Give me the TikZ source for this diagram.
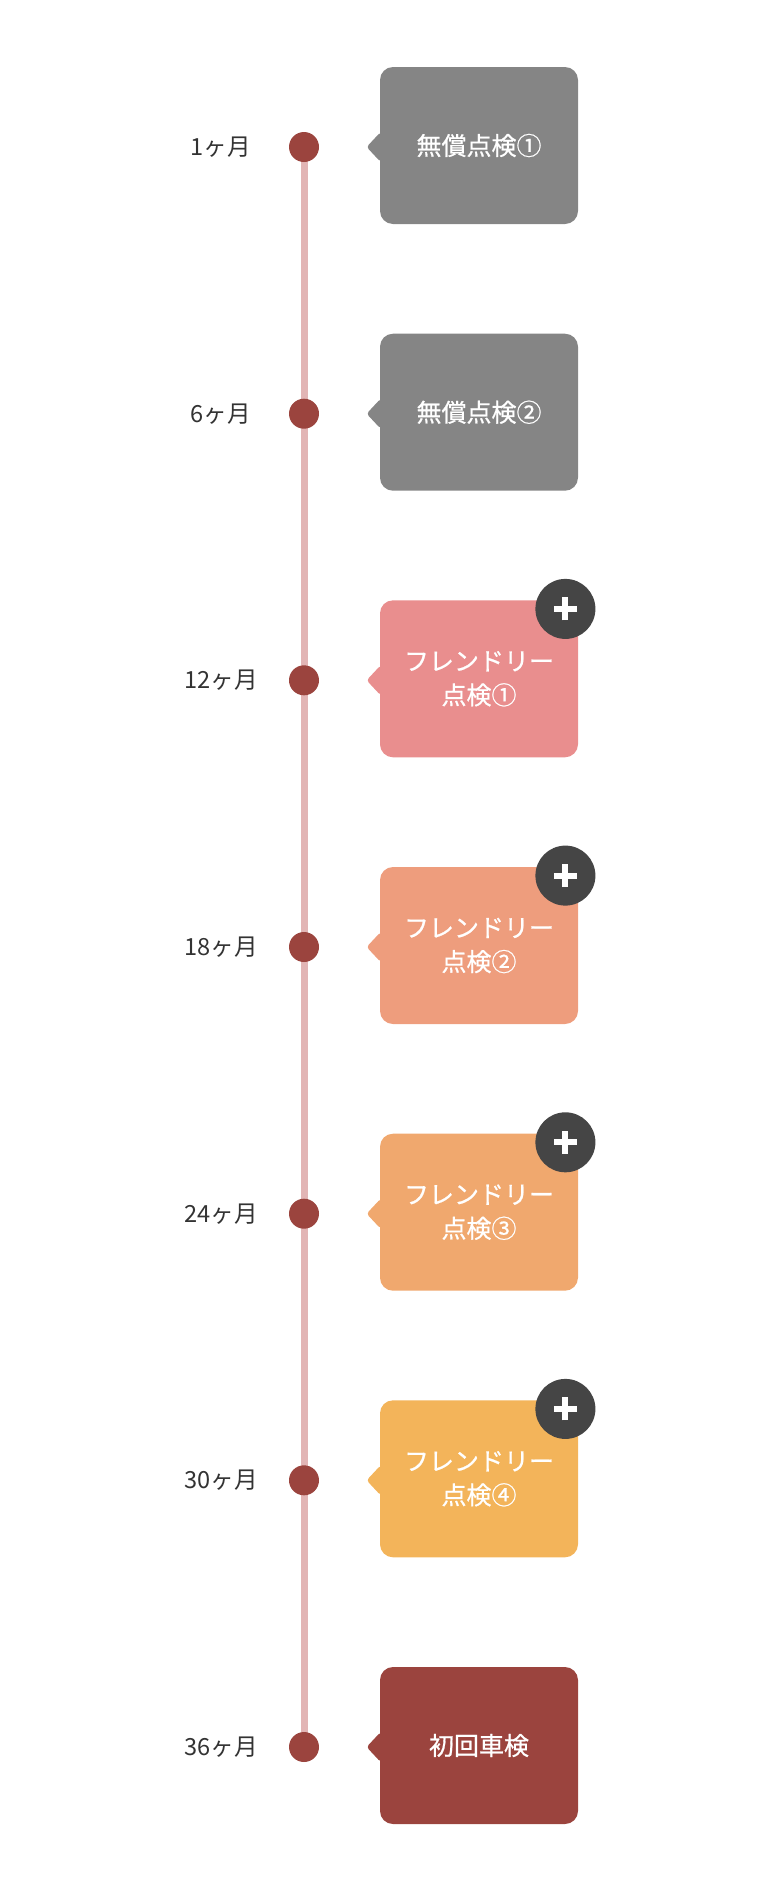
\documentclass[tikz,border=0pt]{standalone}
\usepackage{fontspec}
\setmainfont{Noto Sans CJK JP}
\newfontfamily\medio{Noto Sans CJK JP}[FakeBold=0.7]
\usepackage{tikz}
\usetikzlibrary{positioning,backgrounds}

\definecolor{grigio}{HTML}{858585}
\definecolor{rosa}{HTML}{E98E8E}
\definecolor{salmone}{HTML}{EE9D7D}
\definecolor{pesca}{HTML}{F0A86E}
\definecolor{giallo}{HTML}{F3B45A}
\definecolor{mattone}{HTML}{9B443E}
\definecolor{lineac}{HTML}{E2B5B5}
\definecolor{piuc}{HTML}{454545}
\definecolor{testoc}{HTML}{333333}

\begin{document}
\begin{tikzpicture}[x=0.5pt, y=-0.5pt,
    tappa/.style={circle, fill=mattone, minimum size=15pt, inner sep=0pt},
    mese/.style={text=testoc, font=\fontsize{11.8}{14}\selectfont},
    scatola/.style={rectangle, rounded corners=6.5pt, minimum width=99pt, minimum height=78.5pt,
        text=white, align=center, inner sep=0pt, font=\medio\fontsize{12.5}{17}\selectfont},
    piu/.style={circle, fill=piuc, minimum size=30pt, inner sep=0pt},
    croce/.style={white, line width=3pt}]
    \useasboundingbox (0,0) rectangle (768,1890);

    % TAPPE
    \node[tappa] (t1) at (304,147) {};
    \node[tappa] (t2) at (304,413.7) {};
    \node[tappa] (t3) at (304,680.3) {};
    \node[tappa] (t4) at (304,947) {};
    \node[tappa] (t5) at (304,1213.7) {};
    \node[tappa] (t6) at (304,1480.3) {};
    \node[tappa] (t7) at (304,1747) {};

    % MESI
    \node[mese] (m1) at (221,147) {1ヶ月};
    \node[mese] (m2) at (221,413.7) {6ヶ月};
    \node[mese] (m3) at (221,680.3) {12ヶ月};
    \node[mese] (m4) at (221,947) {18ヶ月};
    \node[mese] (m5) at (221,1213.7) {24ヶ月};
    \node[mese] (m6) at (221,1480.3) {30ヶ月};
    \node[mese] (m7) at (221,1747) {36ヶ月};

    % CONTROLLI
    \node[scatola, fill=grigio] (s1) at (479,145.5) {無償点検①};
    \node[scatola, fill=grigio] (s2) at (479,412.2) {無償点検②};
    \node[scatola, fill=rosa] (s3) at (479,678.8) {フレンドリー\\点検①};
    \node[scatola, fill=salmone] (s4) at (479,945.5) {フレンドリー\\点検②};
    \node[scatola, fill=pesca] (s5) at (479,1212.2) {フレンドリー\\点検③};
    \node[scatola, fill=giallo] (s6) at (479,1478.8) {フレンドリー\\点検④};
    \node[scatola, fill=mattone] (s7) at (479,1745.5) {初回車検};

    % PUNTE
    \foreach \s/\c/\t in {s1/grigio/t1, s2/grigio/t2, s3/rosa/t3, s4/salmone/t4,
                          s5/pesca/t5, s6/giallo/t6, s7/mattone/t7}
        \fill[\c, rounded corners=1.5pt] (\s.west |- \t) ++(1,-15) -- ++(-14,15) -- ++(14,15) -- cycle;

    % PIU
    \foreach \p/\s in {p3/s3, p4/s4, p5/s5, p6/s6} {
        \node[piu] (\p) at ([xshift=-6.5pt, yshift=-4.5pt]\s.north east) {};
        \draw[croce] ([xshift=-5.75pt]\p.center) -- ([xshift=5.75pt]\p.center);
        \draw[croce] ([yshift=-5.75pt]\p.center) -- ([yshift=5.75pt]\p.center);
    }

    % LINEA
    \begin{scope}[on background layer]
        \draw[lineac, line width=3.5pt] (t1.center) -- (t7.center);
    \end{scope}
\end{tikzpicture}
\end{document}
